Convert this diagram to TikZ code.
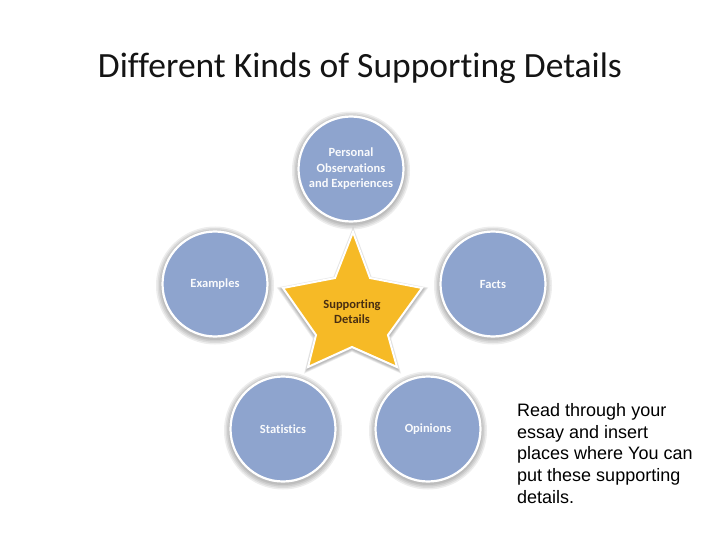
\documentclass[tikz,border=0pt]{standalone}
\usepackage{fontspec}
\setmainfont{Carlito}[Ligatures={NoCommon}]
\newfontfamily\arialf{Liberation Sans}
\definecolor{bubfill}{RGB}{142,164,206}
\definecolor{starfill}{RGB}{246,186,38}
\definecolor{startext}{RGB}{72,46,18}
\definecolor{titletext}{RGB}{20,20,20}
\tikzset{
  bub/.style={circle, fill=bubfill, draw=white, line width=2.2pt, minimum size=105pt,
    inner sep=0pt, text=white!95!bubfill, font=\bfseries\fontsize{12.5}{15.5}\selectfont, align=center},
  glow/.style={fill=black, opacity=0.07},
}
\newcommand{\starpath}{%
  (353,232) -- (370,278) -- (422,288) -- (388,335) -- (397,367) -- (352,347)
  -- (308,367) -- (316,335) -- (283,288) -- (335,278) -- cycle}
\begin{document}
\begin{tikzpicture}[x=1pt, y=-1pt]
\useasboundingbox[fill=white] (0,0) rectangle (720,540);
\node[font=\fontsize{35.5}{42}\selectfont, text=titletext] (title) at (360,68) {Different Kinds of Supporting Details};
% positions
\coordinate (pTop) at (351,169);
\coordinate (pEx) at (215,284);
\coordinate (pFa) at (493,284);
\coordinate (pSt) at (283,429);
\coordinate (pOp) at (428,429);
% shadows
\foreach \p in {pTop,pEx,pFa,pSt,pOp}{
  \foreach \r in {59,57.5,56,54.5}{
    \fill[glow] ([yshift=-1.5pt]\p) circle (\r pt);
  }
}
\node[bub] (top) at (pTop) {Personal\\Observations\\and Experiences};
\node[bub] (ex) at (pEx) {Examples};
\node[bub] (fa) at (pFa) {Facts};
\node[bub] (st) at (pSt) {Statistics};
\node[bub] (op) at (pOp) {Opinions};
% star
\foreach \s in {1.09,1.07,1.05,1.03}{
  \fill[glow, shift={(352,311.5)}, scale=\s, shift={(-352,-310)}] \starpath;
}
\draw[fill=starfill, draw=white, line width=2pt, line join=miter] \starpath;
\node[text=startext, font=\bfseries\fontsize{12.5}{15}\selectfont, align=center] (sd) at (352,312) {Supporting\\Details};
% side text
\node[anchor=north west, inner sep=0pt, align=left, font=\arialf\fontsize{18}{21.8}\selectfont, text=black] (note) at (517,403)
  {Read through your\\essay and insert\\places where You can\\put these supporting\\details.};
\end{tikzpicture}
\end{document}
